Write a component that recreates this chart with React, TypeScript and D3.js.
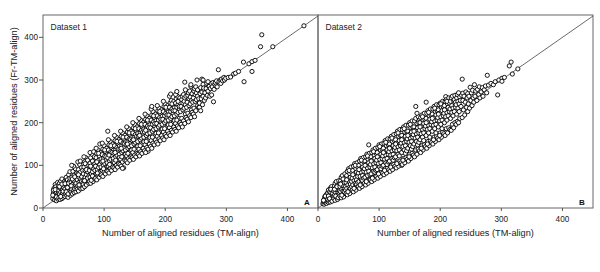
import React from "react";
import * as d3 from "d3";

// Dataset 1: flat pairs [TM-align, Fr-TM-align, ...]
const dataset1Pairs: number[] = [
16,22,17,35,18,28,18,46,19,19,19,40,20,31,20,55,21,24,21,50,22,37,22,17,23,44,23,29,24,60,24,21,25,52,25,34,16,30,17,42,20,43,22,26,
26,24,26,41,27,58,27,33,28,20,28,47,29,63,29,37,30,28,30,52,31,22,31,68,32,43,32,35,33,57,33,25,34,48,34,30,35,62,35,40,27,50,29,27,31,56,33,39,
36,27,36,45,37,60,37,34,38,72,38,52,39,29,39,41,40,66,40,36,41,55,41,25,42,78,42,47,43,32,43,62,44,40,44,70,45,51,45,30,36,57,38,38,40,48,42,58,44,85,41,33,
46,38,46,60,47,72,47,44,48,33,48,55,49,86,49,65,50,40,50,50,51,77,51,36,52,62,52,45,53,92,53,55,54,38,54,70,55,48,55,82,46,52,48,68,50,98,52,73,54,58,47,100,
56,44,56,66,57,80,57,52,58,40,58,90,59,60,59,72,60,48,60,102,61,57,61,84,62,45,62,68,63,95,63,62,64,52,64,76,65,88,65,58,57,108,59,54,61,110,63,74,65,46,58,78,
66,55,66,80,67,96,67,65,68,50,68,108,69,72,69,88,70,60,70,118,71,78,71,54,72,98,72,68,73,85,73,112,74,62,74,92,75,58,75,75,67,120,69,104,71,90,73,70,75,100,68,64,
76,62,76,88,77,105,77,72,78,58,78,118,79,80,79,95,80,67,80,126,81,85,81,110,82,62,82,100,83,76,83,92,84,120,84,70,85,88,85,104,77,130,79,65,81,75,83,132,85,68,78,98,
86,70,86,98,87,118,87,80,88,66,88,128,89,90,89,106,90,75,90,136,91,95,91,112,92,72,92,122,93,85,93,102,94,130,94,78,95,96,95,115,87,140,89,82,91,128,93,150,95,85,88,108,
96,78,96,108,97,125,97,88,98,74,98,138,99,100,99,116,100,84,100,146,101,104,101,122,102,80,102,132,103,94,103,112,104,140,104,88,105,106,105,125,97,152,99,92,101,136,103,120,105,98,98,110,
106,86,106,118,107,136,107,98,108,82,108,148,109,110,109,126,110,92,110,156,111,114,111,132,112,88,112,142,113,104,113,122,114,150,114,96,115,116,115,135,107,160,109,102,111,146,113,130,115,108,106,180,108,124,
116,94,116,128,117,146,117,106,118,90,118,158,119,120,119,136,120,100,120,166,121,124,121,142,122,96,122,152,123,114,123,132,124,160,124,104,125,126,125,145,117,170,119,112,121,156,123,138,125,118,118,130,
126,102,126,138,127,156,127,114,128,98,128,168,129,130,129,146,130,108,130,176,131,134,131,152,132,94,132,162,133,124,133,142,134,170,134,112,135,136,135,155,127,180,129,120,131,166,133,150,135,126,128,140,130,93,
136,110,136,148,137,166,137,122,138,106,138,178,139,140,139,156,140,116,140,186,141,144,141,162,142,112,142,172,143,134,143,152,144,180,144,120,145,146,145,165,137,190,139,128,141,176,143,160,145,136,138,150,
146,118,146,158,147,176,147,130,148,114,148,188,149,150,149,166,150,124,150,196,151,154,151,172,152,120,152,182,153,142,153,162,154,190,154,128,155,156,155,175,147,200,149,138,151,186,153,168,155,145,148,160,
156,126,156,168,157,186,157,138,158,122,158,198,159,160,159,176,160,132,160,206,161,164,161,182,162,128,162,192,163,150,163,172,164,200,164,140,165,166,165,185,157,210,159,146,161,196,163,178,165,155,172,133,158,170,
166,134,166,178,167,196,167,148,168,130,168,208,169,170,169,186,170,142,170,216,171,174,171,192,172,138,172,202,173,160,173,182,174,210,174,150,175,176,175,195,167,220,169,156,171,206,173,188,175,165,168,182,
176,144,176,188,177,206,177,158,178,140,178,218,179,180,179,196,180,152,180,226,181,184,181,202,182,148,182,212,183,170,183,192,184,220,184,160,185,186,185,205,177,232,179,166,181,216,183,198,185,175,178,238,
186,154,186,198,187,216,187,168,188,150,188,228,189,190,189,206,190,162,190,234,191,194,191,212,192,158,192,222,193,180,193,202,194,230,194,170,195,196,195,215,187,240,189,176,191,226,193,208,195,185,
196,164,196,208,197,226,197,178,198,160,198,238,199,200,199,216,200,172,200,244,201,204,201,222,202,168,202,232,203,190,203,212,204,240,204,180,205,206,205,225,197,250,199,186,201,236,203,218,205,195,
206,174,206,218,207,236,207,188,208,170,208,246,209,210,209,226,210,182,210,252,211,214,211,232,212,178,212,242,213,200,213,222,214,250,214,190,215,216,215,235,207,262,209,196,211,244,213,228,215,205,209,267,
216,184,216,228,217,246,217,198,218,180,218,256,219,220,219,236,220,192,220,262,221,224,221,242,222,188,222,252,223,210,223,232,224,258,224,200,225,226,225,245,217,266,219,206,221,250,223,238,219,273,
226,196,226,238,227,254,227,210,228,190,228,262,229,230,229,246,230,204,230,266,231,234,231,250,232,198,232,258,233,220,233,242,234,262,234,212,235,236,232,295,233,277,
236,208,236,248,237,264,237,222,238,202,238,270,239,240,239,256,240,216,240,274,241,244,241,260,242,212,242,285,243,230,243,252,244,268,244,224,245,248,242,289,
246,220,246,258,247,274,247,234,248,214,248,280,249,250,249,266,250,228,250,284,251,254,251,270,252,300,253,240,253,262,254,276,255,236,255,256,256,236,253,277,
256,246,257,268,258,228,258,282,259,256,260,272,260,302,261,242,262,262,262,290,263,278,264,252,265,270,262,300,263,281,
266,258,267,280,268,292,269,264,270,274,271,286,272,285,273,262,274,280,275,292,270,296,
276,265,277,284,278,294,279,249,280,278,281,290,282,294,283,286,284,298,285,284,
287,324,288,296,290,300,291,292,292,302,294,298,296,306,297,300,299,304,
303,306,307,307,312,314,315,316,320,320,328,342,329,296,337,338,342,343,342,320,347,346,356,378,358,406,376,378,427,427
];

// Dataset 2: flat pairs [TM-align, Fr-TM-align, ...]
const dataset2Pairs: number[] = [
8,10,9,14,10,9,10,20,11,16,11,26,12,12,12,22,13,18,13,30,14,11,14,25,15,15,15,34,9,18,12,28,
16,20,16,35,17,13,17,42,18,26,18,17,19,38,19,30,20,14,20,46,21,24,21,36,22,18,22,50,23,30,23,42,24,20,24,34,25,26,25,45,17,28,19,22,21,44,23,16,
26,22,26,40,27,52,27,30,28,18,28,58,29,36,29,46,30,25,30,62,31,42,31,30,32,20,32,54,33,36,33,48,34,26,34,64,35,40,35,56,27,44,29,28,31,50,33,24,35,32,
36,28,36,50,37,64,37,38,38,24,38,72,39,44,39,58,40,32,40,76,41,52,41,40,42,26,42,66,43,46,43,60,44,34,44,80,45,50,45,70,37,56,39,30,41,68,43,38,45,42,
46,34,46,60,47,76,47,46,48,31,48,86,49,54,49,68,50,40,50,92,51,62,51,48,52,34,52,80,53,56,53,72,54,42,54,96,55,62,55,84,47,66,49,38,51,88,53,46,55,50,
56,42,56,70,57,88,57,54,58,38,58,98,59,64,59,80,60,48,60,104,61,72,61,58,62,42,62,92,63,66,63,84,64,50,64,106,65,74,65,96,57,78,59,46,61,100,63,56,65,60,
66,50,66,82,67,100,67,62,68,46,68,110,69,74,69,92,70,56,70,116,71,84,71,66,72,50,72,104,73,76,73,96,74,58,74,118,75,86,75,108,67,90,69,54,71,112,73,64,75,70,
76,58,76,92,77,110,77,72,78,54,78,120,79,84,79,102,80,64,80,126,81,94,81,76,82,58,82,114,83,86,83,106,84,66,84,128,85,96,85,118,77,100,79,62,81,122,83,148,85,78,
86,66,86,102,87,120,87,80,88,62,88,130,89,94,89,112,90,72,90,136,91,104,91,86,92,66,92,124,93,96,93,116,94,74,94,140,95,106,95,128,87,110,89,70,91,132,93,84,95,88,
96,74,96,112,97,130,97,90,98,70,98,142,99,104,99,122,100,82,100,148,101,114,101,96,102,74,102,136,103,106,103,126,104,84,104,150,105,116,105,138,97,120,99,80,101,144,103,92,105,98,
106,82,106,122,107,140,107,100,108,78,108,152,109,114,109,132,110,92,110,158,111,124,111,106,112,82,112,146,113,116,113,136,114,94,114,162,115,126,115,148,107,130,109,88,111,154,113,102,115,108,
116,90,116,132,117,150,117,110,118,86,118,162,119,124,119,142,120,100,120,168,121,134,121,116,122,90,122,156,123,126,123,146,124,102,124,172,125,136,125,158,117,140,119,96,121,164,123,112,125,118,
126,98,126,142,127,160,127,120,128,94,128,174,129,134,129,152,130,108,130,180,131,144,131,126,132,98,132,168,133,136,133,158,134,110,134,184,135,146,135,170,127,150,129,104,131,176,133,122,137,100,
136,106,136,152,137,170,137,130,138,102,138,184,139,144,139,162,140,116,140,190,141,154,141,136,142,106,142,178,143,146,143,168,144,118,144,194,145,156,145,180,137,160,139,112,141,186,143,128,145,134,
146,114,146,162,147,180,147,140,148,110,148,194,149,154,149,172,150,126,150,200,151,164,151,146,152,116,152,188,153,156,153,178,154,128,154,204,155,166,155,190,147,170,149,120,151,196,153,138,155,144,
156,124,156,172,157,190,157,150,158,120,158,204,159,164,159,182,160,136,160,210,161,174,161,156,162,126,162,198,163,166,163,188,164,138,164,214,165,176,165,200,157,180,160,238,162,222,163,148,165,154,
166,134,166,182,167,200,167,160,168,130,168,212,169,174,169,192,170,146,170,218,171,184,171,166,172,136,172,206,173,176,173,198,174,148,174,222,175,186,175,208,167,190,169,140,171,214,173,158,177,248,
176,144,176,192,177,210,177,170,178,140,178,222,179,184,179,202,180,156,180,228,181,194,181,176,182,146,182,216,183,186,183,208,184,158,184,232,185,196,185,218,177,200,179,150,181,224,183,166,
186,154,186,202,187,220,187,180,188,150,188,232,189,194,189,212,190,166,190,238,191,204,191,186,192,156,192,226,193,196,193,218,194,168,194,242,195,206,195,228,187,210,189,160,191,234,193,176,
196,164,196,212,197,230,197,190,198,160,198,242,199,204,199,222,200,176,200,246,201,214,201,196,202,166,202,236,203,206,203,228,204,178,204,250,205,216,205,238,197,220,199,170,201,244,203,186,
206,174,206,222,207,240,207,200,208,170,208,250,209,214,209,261,210,186,210,254,211,224,211,206,212,176,212,244,213,216,213,236,214,188,214,258,215,226,215,246,207,230,211,250,
216,184,216,232,217,250,217,210,218,182,218,258,219,224,219,240,220,196,220,262,221,234,221,216,222,188,222,252,223,254,223,226,224,200,224,264,225,236,225,248,
226,196,226,242,227,258,227,220,228,203,228,266,229,234,229,250,230,200,230,270,231,244,231,226,232,210,232,260,233,252,234,238,235,264,237,269,
236,302,236,212,237,252,238,230,239,262,240,218,241,248,242,272,243,236,244,258,245,226,245,268,
246,244,247,262,248,234,249,283,250,252,251,270,252,240,253,276,254,258,255,248,
256,289,257,262,258,274,260,252,261,278,263,266,264,284,265,258,
267,272,269,282,270,262,272,277,274,286,276,270,277,311,279,288,
283,292,287,289,290,296,294,265,296,300,301,304,301,297,305,306,313,333,316,342,318,314,327,326
];

const panelNames = ["Dataset 1", "Dataset 2"];
const panelLetters = ["A", "B"];
const tickValues = [0, 100, 200, 300, 400];
const axisMax = 450;
const xTitle = "Number of aligned residues (TM-align)";
const yTitle = "Number of aligned residues (Fr-TM-align)";

const toPoints = (arr: number[]) => {
  const out: [number, number][] = [];
  for (let i = 0; i + 1 < arr.length; i += 2) out.push([arr[i], arr[i + 1]]);
  return out;
};

const FONT = "'Liberation Sans', Arial, Helvetica, sans-serif";
const W = 600, H = 272;
const TOP = 15, BOTTOM = 208;
const panelLefts = [43, 318];
const PW = 275;

export default function App() {
  const datasets = [toPoints(dataset1Pairs), toPoints(dataset2Pairs)];
  const y = d3.scaleLinear().domain([0, axisMax]).range([BOTTOM, TOP + 1]);
  return (
    <svg width={W} height={H} style={{ position: "absolute", left: 0, top: 0, background: "#fff" }} fontFamily={FONT}>
      {datasets.map((pts, pi) => {
        const left = panelLefts[pi];
        const x = d3.scaleLinear().domain([0, axisMax]).range([left, left + PW]);
        return (
          <g key={pi}>
            <rect x={left} y={TOP} width={PW} height={BOTTOM - TOP} fill="none" stroke="#666" strokeWidth={1} />
            <line x1={x(0)} y1={y(0)} x2={x(axisMax)} y2={y(axisMax)} stroke="#444" strokeWidth={0.8} />
            {pts.map((p, i) => (
              <circle key={i} cx={x(p[0])} cy={y(p[1])} r={2.1} fill="#fff" stroke="#000" strokeWidth={0.9} />
            ))}
            {tickValues.map((t) => (
              <g key={t}>
                <line x1={x(t)} x2={x(t)} y1={BOTTOM} y2={BOTTOM + 3} stroke="#555" />
                <text x={x(t)} y={221.5} fontSize={8.2} textAnchor="middle" fill="#222">{t}</text>
              </g>
            ))}
            <text x={x(225)} y={236} fontSize={9.2} textAnchor="middle" fill="#222">{xTitle}</text>
            <text x={left + 7.5} y={30} fontSize={8.5} fill="#222">{panelNames[pi]}</text>
            <text x={left + PW - 11} y={204.5} fontSize={8} fontWeight="bold" textAnchor="middle" fill="#111">{panelLetters[pi]}</text>
          </g>
        );
      })}
      {tickValues.map((t) => (
        <g key={"y" + t}>
          <line x1={39} x2={43} y1={y(t)} y2={y(t)} stroke="#555" />
          <text x={38} y={y(t) + 3} fontSize={8.2} textAnchor="end" fill="#222">{t}</text>
        </g>
      ))}
      <text transform={`translate(17,${(TOP + BOTTOM) / 2}) rotate(-90)`} fontSize={9.2} textAnchor="middle" fill="#222">{yTitle}</text>
    </svg>
  );
}
